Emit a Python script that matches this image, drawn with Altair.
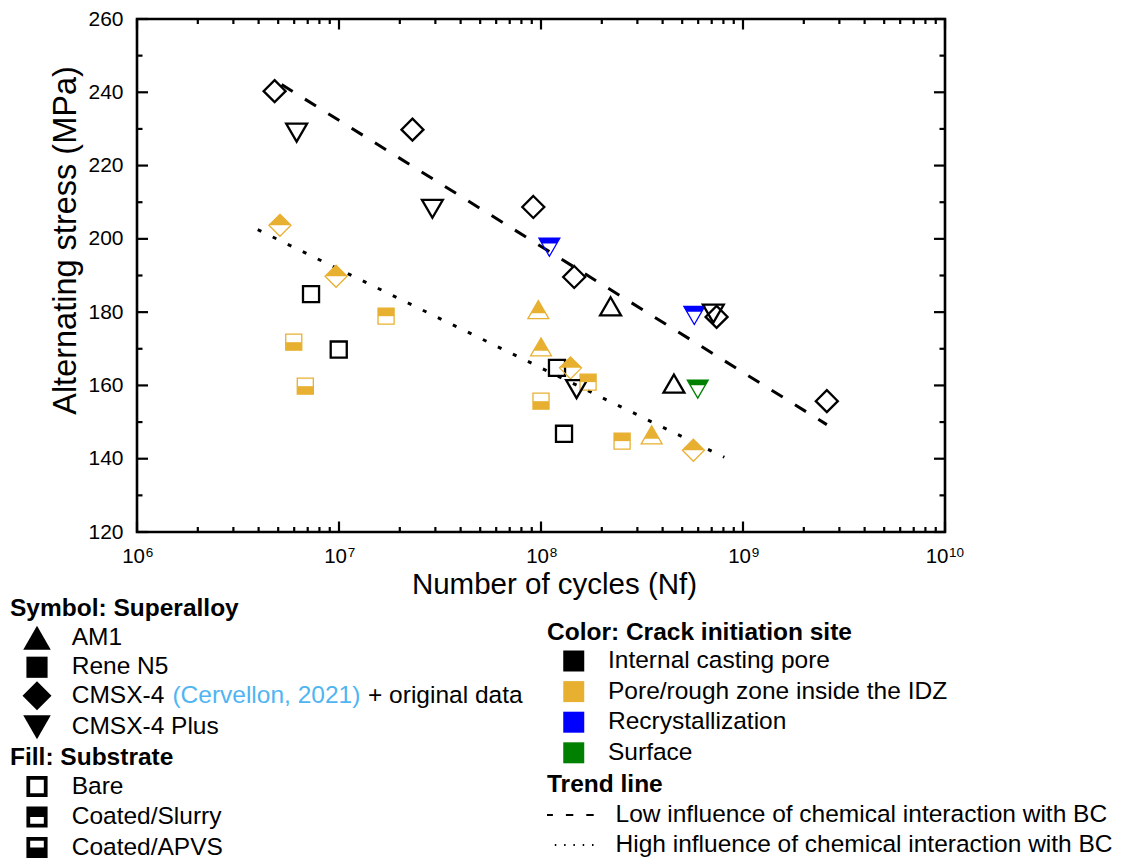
import altair as alt
import pandas as pd

FONT = "Liberation Sans"

# ---------------- categories ----------------
alloys = ["AM1", "Rene N5", "CMSX-4", "CMSX-4 Plus"]
substrates = ["Bare", "Coated/Slurry", "Coated/APVS"]
sites = ["Internal casting pore", "Pore/rough zone inside the IDZ",
         "Recrystallization", "Surface"]
site_colors = ["#000000", "#E8B030", "#0000FF", "#008000"]
trend_names = ["Low influence of chemical interaction with BC",
               "High influence of chemical interaction with BC"]
cite_text = "(Cervellon, 2021)"
cite_suffix = "+ original data"

# ---------------- data points ----------------
pt_alloy = ["CMSX-4", "CMSX-4 Plus", "CMSX-4", "CMSX-4 Plus", "CMSX-4", "CMSX-4 Plus",
            "CMSX-4", "AM1", "CMSX-4 Plus", "CMSX-4 Plus", "CMSX-4", "AM1",
            "CMSX-4 Plus", "CMSX-4", "CMSX-4", "CMSX-4", "Rene N5", "Rene N5",
            "Rene N5", "Rene N5", "Rene N5", "AM1", "AM1", "Rene N5",
            "CMSX-4", "Rene N5", "CMSX-4 Plus", "Rene N5", "Rene N5", "Rene N5",
            "AM1", "CMSX-4"]
pt_substrate = ["Bare", "Bare", "Bare", "Bare", "Bare", "Coated/Slurry",
                "Bare", "Bare", "Coated/Slurry", "Bare", "Bare", "Bare",
                "Coated/Slurry", "Bare", "Coated/Slurry", "Coated/Slurry", "Bare", "Coated/Slurry",
                "Coated/APVS", "Bare", "Coated/APVS", "Coated/Slurry", "Coated/Slurry", "Bare",
                "Coated/Slurry", "Coated/Slurry", "Bare", "Coated/APVS", "Bare", "Coated/Slurry",
                "Coated/Slurry", "Coated/Slurry"]
pt_site = ["Internal casting pore", "Internal casting pore", "Internal casting pore",
           "Internal casting pore", "Internal casting pore", "Recrystallization",
           "Internal casting pore", "Internal casting pore", "Recrystallization",
           "Internal casting pore", "Internal casting pore", "Internal casting pore",
           "Surface", "Internal casting pore", "Pore/rough zone inside the IDZ",
           "Pore/rough zone inside the IDZ", "Internal casting pore", "Pore/rough zone inside the IDZ",
           "Pore/rough zone inside the IDZ", "Internal casting pore", "Pore/rough zone inside the IDZ",
           "Pore/rough zone inside the IDZ", "Pore/rough zone inside the IDZ", "Internal casting pore",
           "Pore/rough zone inside the IDZ", "Pore/rough zone inside the IDZ", "Internal casting pore",
           "Pore/rough zone inside the IDZ", "Internal casting pore", "Pore/rough zone inside the IDZ",
           "Pore/rough zone inside the IDZ", "Pore/rough zone inside the IDZ"]
pt_cycles = [4.8e6, 6.17e6, 2.31e7, 2.9e7, 9.16e7, 1.1e8,
             1.46e8, 2.21e8, 5.74e8, 7.13e8, 7.4e8, 4.55e8,
             5.97e8, 2.6e9, 5.1e6, 9.67e6, 7.27e6, 1.71e7,
             5.97e6, 9.97e6, 6.81e6, 9.7e7, 1.0e8, 1.2e8,
             1.4e8, 1.71e8, 1.5e8, 1.0e8, 1.3e8, 2.52e8,
             3.53e8, 5.68e8]
pt_stress = [240.3, 229.0, 229.8, 208.2, 208.7, 197.7,
             189.6, 181.6, 179.1, 179.6, 178.7, 160.5,
             159.0, 155.7, 203.7, 189.8, 184.9, 178.9,
             171.8, 169.8, 159.8, 180.7, 170.5, 164.8,
             164.8, 160.9, 159.0, 155.7, 146.8, 144.8,
             146.5, 142.3]

# ---------------- trend lines ----------------
trend_line = [trend_names[0], trend_names[0], trend_names[1], trend_names[1]]
trend_cycles = [5.2e6, 2.6e9, 3.96e6, 8.08e8]
trend_stress = [242.1, 149.3, 202.5, 140.4]

# ---------------- ticks ----------------
x_major = [1e6, 1e7, 1e8, 1e9, 1e10]
x_exponent = ["6", "7", "8", "9", "10"]
x_minor = [m * 10.0 ** e for e in range(6, 10) for m in range(2, 10)]
y_major = list(range(120, 261, 20))
y_minor = list(range(130, 251, 20))

# ---------------- marker shapes (unit paths) ----------------
outline_path = {
    "AM1": "M0,-0.82L0.95,0.82L-0.95,0.82Z",
    "Rene N5": "M-0.73,-0.73L0.73,-0.73L0.73,0.73L-0.73,0.73Z",
    "CMSX-4": "M0,-1L1,0L0,1L-1,0Z",
    "CMSX-4 Plus": "M-0.95,-0.82L0.95,-0.82L0,0.82Z",
}
half_path = {
    "AM1|Coated/Slurry": "M0,-0.82L0.672,0.34L-0.672,0.34Z",
    "AM1|Coated/APVS": "M-0.672,0.34L0.672,0.34L0.95,0.82L-0.95,0.82Z",
    "Rene N5|Coated/Slurry": "M-0.73,-0.73L0.73,-0.73L0.73,0L-0.73,0Z",
    "Rene N5|Coated/APVS": "M-0.73,0L0.73,0L0.73,0.73L-0.73,0.73Z",
    "CMSX-4|Coated/Slurry": "M0,-1L1,0L-1,0Z",
    "CMSX-4|Coated/APVS": "M-1,0L1,0L0,1Z",
    "CMSX-4 Plus|Coated/Slurry": "M-0.95,-0.82L0.95,-0.82L0.672,-0.34L-0.672,-0.34Z",
    "CMSX-4 Plus|Coated/APVS": "M-0.672,-0.34L0.672,-0.34L0,0.82Z",
}
_outer = "M-0.73,-0.73L0.73,-0.73L0.73,0.73L-0.73,0.73Z"
substrate_path = {
    "Bare": _outer + " M-0.47,-0.47L-0.47,0.47L0.47,0.47L0.47,-0.47Z",
    "Coated/Slurry": _outer + " M-0.47,0L-0.47,0.47L0.47,0.47L0.47,0Z",
    "Coated/APVS": _outer + " M-0.47,-0.47L-0.47,0L0.47,0L0.47,-0.47Z",
}

W, H = 808, 513
TOP = 11          # top padding (plot top at page y = 8 + TOP)
SHIFT = TOP - 9   # keep page positions of the outside texts as in the reference
xs = alt.Scale(type="log", domain=[1e6, 1e10], nice=False)
ys = alt.Scale(domain=[120, 260], nice=False, zero=False)


def xenc(f, axis=None):
    return alt.X(f"{f}:Q", scale=xs, axis=axis)


def yenc(f, axis=None):
    return alt.Y(f"{f}:Q", scale=ys, axis=axis)


TICK_W = 2.2


def xticks(values, length, top):
    df = pd.DataFrame({"v": values})
    y0, y1 = (0, length) if top else (H, H - length)
    return alt.Chart(df).mark_rule(color="black", strokeWidth=TICK_W).encode(
        x=xenc("v"), y=alt.value(y0), y2=alt.value(y1))


def yticks(values, length, right, axis=None):
    df = pd.DataFrame({"v": values})
    x0, x1 = (W, W - length) if right else (0, length)
    return alt.Chart(df).mark_rule(color="black", strokeWidth=TICK_W).encode(
        y=yenc("v", axis), x=alt.value(x0), x2=alt.value(x1))


y_axis = alt.Axis(values=y_major, orient="left", ticks=False, tickSize=0, domain=False,
                  grid=False, labelPadding=14, labelFontSize=21, labelFont=FONT,
                  labelColor="black", title="Alternating stress (MPa)", titleFontSize=32.5,
                  titleFont=FONT, titleFontWeight="normal", titleColor="black",
                  titleX=-62, titleY=223 - SHIFT, titleAngle=270, titleAlign="center",
                  titleBaseline="alphabetic")
x_axis = alt.Axis(orient="bottom", labels=False, ticks=False, tickSize=0, domain=False,
                  grid=False, title="Number of cycles (Nf)", titleFontSize=29.5,
                  titleFont=FONT, titleFontWeight="normal", titleColor="black",
                  titleX=417, titleY=63 - SHIFT, titleAlign="center", titleBaseline="alphabetic")

tick_layers = [
    xticks(x_major, 10.5, False), xticks(x_minor, 5, False),
    xticks(x_major, 10.5, True), xticks(x_minor, 5, True),
    yticks(y_major, 11, False, y_axis), yticks(y_minor, 5.5, False),
    yticks(y_major, 11, True), yticks(y_minor, 5.5, True),
]

# x tick labels 10^n
xlab = pd.DataFrame({"v": x_major, "exp": x_exponent})
lab_base = alt.Chart(xlab).encode(x=xenc("v"))
ten_small = lab_base.transform_filter("datum.v < 5e9").mark_text(
    text="10", align="right", dx=8, baseline="alphabetic", fontSize=20.5, font=FONT,
    color="black").encode(y=alt.value(546 - SHIFT))
exp_small = lab_base.transform_filter("datum.v < 5e9").mark_text(
    align="left", dx=8.7, baseline="alphabetic", fontSize=13.5, font=FONT,
    color="black").encode(y=alt.value(540.3 - SHIFT), text="exp:N")
ten_big = lab_base.transform_filter("datum.v > 5e9").mark_text(
    text="10", align="right", dx=3.5, baseline="alphabetic", fontSize=20.5, font=FONT,
    color="black").encode(y=alt.value(546 - SHIFT))
exp_big = lab_base.transform_filter("datum.v > 5e9").mark_text(
    align="left", dx=4, baseline="alphabetic", fontSize=13.5, font=FONT,
    color="black").encode(y=alt.value(540.3 - SHIFT), text="exp:N")

# trend lines
trend_df = pd.DataFrame({"trend": trend_line, "cycles": trend_cycles, "stress": trend_stress})
trend = alt.Chart(trend_df).mark_line(color="black", strokeWidth=3).encode(
    x=xenc("cycles", x_axis), y=yenc("stress"),
    strokeDash=alt.StrokeDash("trend:N", scale=alt.Scale(domain=trend_names,
                              range=[[13, 14.5], [4, 12.7]]), legend=None))

# data points
pts = pd.DataFrame({"alloy": pt_alloy, "substrate": pt_substrate, "site": pt_site,
                    "cycles": pt_cycles, "stress": pt_stress})
site_scale = alt.Scale(domain=sites, range=site_colors)
outline = alt.Chart(pts).mark_point(filled=False, opacity=1, size=484).encode(
    x=xenc("cycles"), y=yenc("stress"),
    shape=alt.Shape("alloy:N", scale=alt.Scale(domain=alloys,
                    range=[outline_path[a] for a in alloys]), legend=None),
    color=alt.Color("site:N", scale=site_scale, legend=None),
    strokeWidth=alt.condition(alt.datum.substrate == "Bare", alt.value(2.3), alt.value(1.3)),
)
half_keys = list(half_path.keys())
half = alt.Chart(pts).transform_filter(alt.datum.substrate != "Bare").transform_calculate(
    key="datum.alloy + '|' + datum.substrate").mark_point(
    filled=True, opacity=1, size=484, strokeWidth=0).encode(
    x=xenc("cycles"), y=yenc("stress"),
    shape=alt.Shape("key:N", scale=alt.Scale(domain=half_keys,
                    range=[half_path[k] for k in half_keys]), legend=None),
    color=alt.Color("site:N", scale=site_scale, legend=None),
)


# legends
def legend(title, lx, ly, **kw):
    return alt.Legend(title=title, orient="none", legendX=lx, legendY=ly - SHIFT,
                      direction="vertical",
                      titleFont=FONT, titleFontSize=24.5, titleFontWeight="bold",
                      titleColor="black", titleLimit=900, labelFont=FONT, labelFontSize=24.5,
                      labelColor="black", labelLimit=900, padding=0, **kw)


legA = alt.Chart(pd.DataFrame({"alloy": alloys})).mark_point(
    filled=True, opacity=1, clip=True, color="black", strokeWidth=0).encode(
    x=alt.value(-60), y=alt.value(-60),
    shape=alt.Shape("alloy:N", scale=alt.Scale(domain=alloys,
                    range=[outline_path[a] for a in alloys]),
                    legend=legend("Symbol: Superalloy", -127, 580.4, symbolSize=841,
                                  symbolOffset=12.5, labelOffset=20.2, rowPadding=2.5,
                                  titlePadding=1.35, symbolStrokeWidth=0,
                                  symbolFillColor="black")))
legB = alt.Chart(pd.DataFrame({"substrate": substrates})).mark_point(
    filled=True, opacity=1, clip=True, color="black", strokeWidth=0).encode(
    x=alt.value(-60), y=alt.value(-60),
    shape=alt.Shape("substrate:N", scale=alt.Scale(domain=substrates,
                    range=[substrate_path[s] for s in substrates]),
                    legend=legend("Fill: Substrate", -127, 729.15, symbolSize=841,
                                  symbolOffset=12.5, labelOffset=20.2, rowPadding=4.5,
                                  titlePadding=1.35, symbolStrokeWidth=0,
                                  symbolFillColor="black")))
legC = alt.Chart(pd.DataFrame({"site": sites})).mark_square(
    filled=True, opacity=1, clip=True).encode(
    x=alt.value(-60), y=alt.value(-60),
    color=alt.Color("site:N", scale=site_scale,
                    legend=legend("Color: Crack initiation site", 410, 604.4,
                                  symbolType="square", symbolSize=441, symbolOffset=14.5,
                                  labelOffset=22, rowPadding=5.6, titlePadding=2.85,
                                  symbolStrokeWidth=0)))
legD = alt.Chart(pd.DataFrame({"trend": trend_names})).mark_line(
    clip=True, color="black", strokeWidth=2).encode(
    x=alt.value(-60), y=alt.value(-60),
    strokeDash=alt.StrokeDash("trend:N", scale=alt.Scale(domain=trend_names,
                              range=[[7.4, 13], [1.5, 7.8]]),
                              legend=legend("Trend line", 410, 756.4, symbolType="stroke",
                                            symbolSize=2500, clipHeight=25, symbolOffset=-2.5,
                                            labelOffset=19, rowPadding=4, titlePadding=4.6,
                                            symbolStrokeWidth=2, symbolStrokeColor="black")))

cite = alt.Chart(pd.DataFrame({"t": [cite_text]})).mark_text(
    align="left", baseline="middle", fontSize=24.5, font=FONT, color="#4FB5F2").encode(
    text="t:N", x=alt.value(35.4), y=alt.value(678.5 - SHIFT))
suffix = alt.Chart(pd.DataFrame({"t": [cite_suffix]})).mark_text(
    align="left", baseline="middle", fontSize=24.5, font=FONT, color="black").encode(
    text="t:N", x=alt.value(231), y=alt.value(678.5 - SHIFT))

chart = alt.layer(
    *tick_layers, trend, outline, half, ten_small, exp_small, ten_big, exp_big,
    legA, legB, legC, legD, cite, suffix
).resolve_scale(
    shape="independent", color="independent", strokeDash="independent"
).resolve_axis(
    x="independent", y="independent"
).properties(
    width=W, height=H,
    padding={"left": 129, "top": TOP, "right": 168, "bottom": 329 - SHIFT},
    autosize=alt.AutoSizeParams(type="none"),
).configure(font=FONT).configure_view(stroke="black", strokeWidth=2.6)

chart.save("out.html", embed_options={"renderer": "svg", "actions": False})
